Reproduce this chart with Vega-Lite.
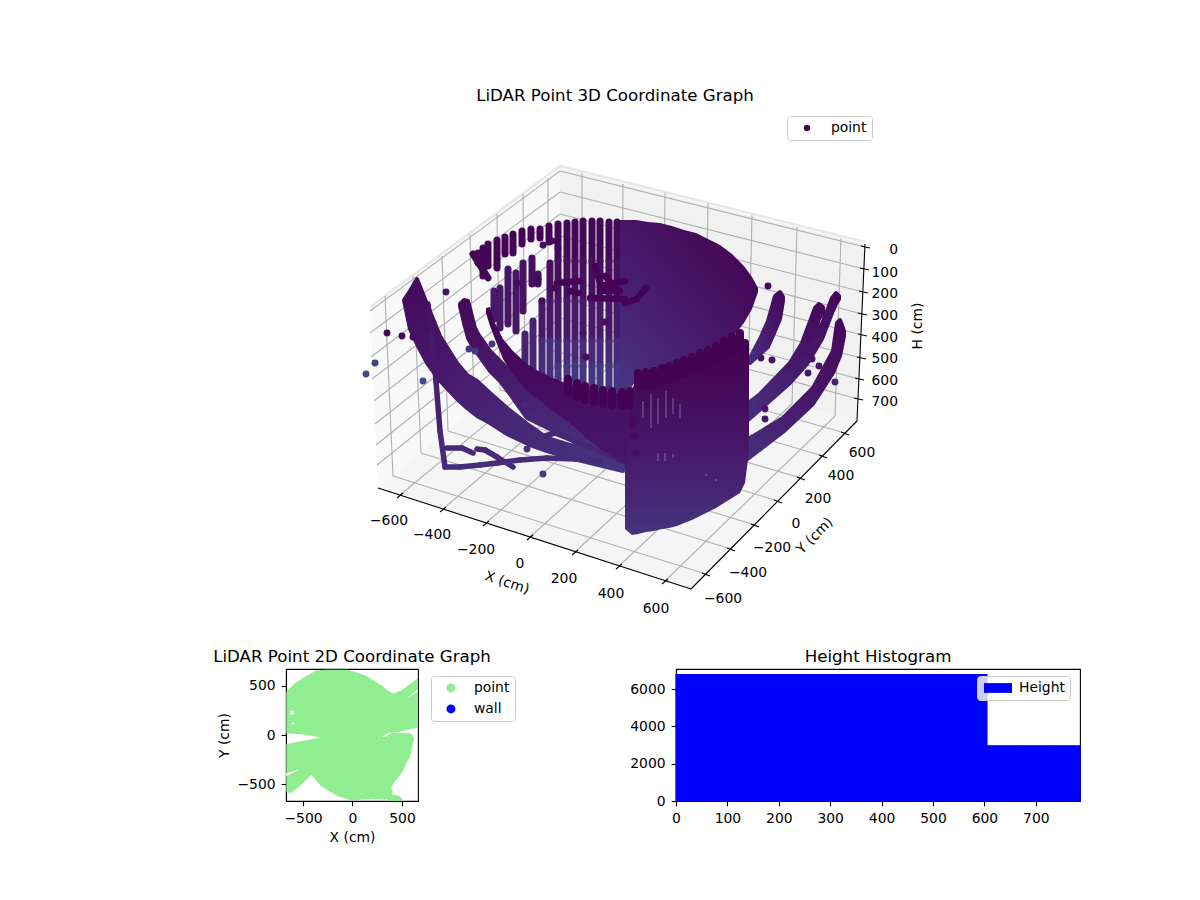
{"$schema":"https://vega.github.io/schema/vega-lite/v6.json","padding":{"left":212,"top":88,"right":0,"bottom":0},"spacing":12,"resolve":{"scale":{"color":"independent","shape":"independent"},"legend":{"color":"independent"}},"config":{"font":"DejaVu Sans","view":{"stroke":"black","strokeWidth":1.1},"axis":{"grid":false,"domainColor":"black","domainWidth":1.1,"tickColor":"black","tickWidth":1.1,"tickSize":4.9,"labelColor":"black","titleColor":"black","labelFontSize":13.9,"titleFontSize":13.9,"titleFontWeight":"normal","labelPadding":6,"titlePadding":5,"labelFlush":false,"labelOverlap":false},"title":{"fontSize":16.67,"fontWeight":"normal","color":"black","offset":3},"legend":{"fillColor":"rgba(255,255,255,0.8)","strokeColor":"#cccccc","cornerRadius":3,"padding":6,"labelFontSize":13.9,"labelColor":"black","symbolStrokeWidth":0,"rowPadding":6}},"vconcat":[{"width":658,"height":530,"title":{"text":"LiDAR Point 3D Coordinate Graph","offset":1},"view":{"stroke":null},"encoding":{"x":{"field":"u","type":"quantitative","axis":null,"scale":{"domain":[286,944],"nice":false,"zero":false}},"y":{"field":"v","type":"quantitative","axis":null,"scale":{"domain":[635,105],"nice":false,"zero":false}}},"layer":[{"mark":{"type":"area","opacity":1},"data":{"values":[{"pane":"left","u":370,"v":307,"v2":307},{"pane":"left","u":378,"v":301,"v2":487},{"pane":"left","u":560,"v":167,"v2":338},{"pane":"right","u":560,"v":167,"v2":338},{"pane":"right","u":857,"v":241,"v2":420},{"pane":"right","u":865,"v":243,"v2":243},{"pane":"floor","u":378,"v":487,"v2":487},{"pane":"floor","u":560,"v":338,"v2":546},{"pane":"floor","u":691,"v":374,"v2":588},{"pane":"floor","u":857,"v":420,"v2":420}]},"encoding":{"y2":{"field":"v2"},"fill":{"field":"pane","type":"nominal","legend":null,"scale":{"domain":["left","right","floor"],"range":["#f9f9f9","#f1f1f1","#f5f5f5"]}}}},{"mark":{"type":"rule","color":"#e8e8e8","strokeWidth":2.5,"opacity":1},"data":{"values":[{"u":370,"v":306,"u2":560,"v2":165},{"u":560,"v":165,"u2":865,"v2":241}]},"encoding":{"x2":{"field":"u2"},"y2":{"field":"v2"}}},{"mark":{"type":"rule","color":"#b0b0b0","strokeWidth":1.1,"opacity":1},"data":{"values":[{"u":400,"v":494,"u2":582,"v2":344},{"u":443,"v":508,"u2":622,"v2":355},{"u":486,"v":522,"u2":663,"v2":367},{"u":530,"v":536,"u2":705,"v2":379},{"u":575,"v":551,"u2":748,"v2":391},{"u":619,"v":565,"u2":792,"v2":403},{"u":665,"v":580,"u2":835,"v2":415},{"u":582,"v":344,"u2":582,"v2":172},{"u":622,"v":355,"u2":623,"v2":183},{"u":663,"v":367,"u2":665,"v2":192},{"u":705,"v":379,"u2":708,"v2":202},{"u":748,"v":391,"u2":752,"v2":214},{"u":792,"v":403,"u2":797,"v2":226},{"u":835,"v":415,"u2":841,"v2":237},{"u":706,"v":573,"u2":393,"v2":475},{"u":731,"v":548,"u2":421,"v2":452},{"u":755,"v":524,"u2":448,"v2":430},{"u":778,"v":500,"u2":474,"v2":408},{"u":801,"v":477,"u2":500,"v2":389},{"u":823,"v":455,"u2":525,"v2":367},{"u":845,"v":432,"u2":548,"v2":348},{"u":393,"v":475,"u2":385,"v2":295},{"u":421,"v":452,"u2":413,"v2":275},{"u":448,"v":430,"u2":442,"v2":255},{"u":474,"v":408,"u2":470,"v2":233},{"u":500,"v":389,"u2":497,"v2":213},{"u":525,"v":367,"u2":523,"v2":193},{"u":548,"v":348,"u2":548,"v2":177},{"u":560,"v":170,"u2":865,"v2":246},{"u":560,"v":191,"u2":864,"v2":268},{"u":560,"v":213,"u2":863,"v2":291},{"u":560,"v":235,"u2":862,"v2":313},{"u":560,"v":255,"u2":862,"v2":334},{"u":560,"v":277,"u2":861,"v2":357},{"u":560,"v":297,"u2":859,"v2":378},{"u":560,"v":317,"u2":858,"v2":398},{"u":370,"v":310,"u2":560,"v2":170},{"u":370,"v":332,"u2":560,"v2":191},{"u":371,"v":356,"u2":560,"v2":213},{"u":372,"v":378,"u2":560,"v2":235},{"u":374,"v":400,"u2":560,"v2":255},{"u":375,"v":423,"u2":560,"v2":277},{"u":376,"v":444,"u2":560,"v2":297},{"u":377,"v":464,"u2":560,"v2":317}]},"encoding":{"x2":{"field":"u2"},"y2":{"field":"v2"}}},{"mark":{"type":"rule","color":"black","strokeWidth":1.1,"opacity":1},"data":{"values":[{"u":378,"v":487,"u2":691,"v2":588},{"u":691,"v":588,"u2":857,"v2":420},{"u":857,"v":420,"u2":865,"v2":243},{"u":397,"v":497,"u2":403,"v2":492},{"u":440,"v":511,"u2":446,"v2":506},{"u":483,"v":525,"u2":489,"v2":520},{"u":527,"v":539,"u2":533,"v2":534},{"u":572,"v":554,"u2":578,"v2":549},{"u":616,"v":568,"u2":622,"v2":563},{"u":662,"v":583,"u2":668,"v2":578},{"u":702,"v":572,"u2":710,"v2":575},{"u":727,"v":547,"u2":735,"v2":550},{"u":751,"v":523,"u2":759,"v2":526},{"u":774,"v":499,"u2":782,"v2":502},{"u":797,"v":476,"u2":805,"v2":479},{"u":819,"v":454,"u2":827,"v2":457},{"u":841,"v":431,"u2":849,"v2":434},{"u":861,"v":245,"u2":870,"v2":247},{"u":860,"v":267,"u2":869,"v2":269},{"u":859,"v":290,"u2":868,"v2":292},{"u":858,"v":312,"u2":867,"v2":314},{"u":858,"v":333,"u2":867,"v2":335},{"u":857,"v":356,"u2":866,"v2":358},{"u":855,"v":377,"u2":864,"v2":379},{"u":854,"v":397,"u2":863,"v2":399}]},"encoding":{"x2":{"field":"u2"},"y2":{"field":"v2"}}},{"mark":{"type":"rule","strokeWidth":7,"strokeCap":"round","opacity":1},"data":{"values":[{"u":478,"v":252,"u2":478,"v2":262,"H":80},{"u":483,"v":247,"u2":483,"v2":275,"H":80},{"u":488,"v":243,"u2":488,"v2":265,"H":70},{"u":497,"v":239,"u2":497,"v2":267,"H":70},{"u":505,"v":236,"u2":505,"v2":253,"H":60},{"u":513,"v":233,"u2":513,"v2":252,"H":60},{"u":522,"v":230,"u2":522,"v2":243,"H":50},{"u":531,"v":228,"u2":531,"v2":238,"H":50},{"u":540,"v":228,"u2":540,"v2":237,"H":50},{"u":549,"v":225,"u2":549,"v2":241,"H":50},{"u":473,"v":253,"u2":488,"v2":277,"H":60},{"u":494,"v":290,"u2":494,"v2":318,"H":350},{"u":500,"v":287,"u2":500,"v2":327,"H":350},{"u":508,"v":268,"u2":508,"v2":323,"H":280},{"u":516,"v":272,"u2":516,"v2":330,"H":300},{"u":523,"v":262,"u2":523,"v2":310,"H":250},{"u":532,"v":257,"u2":532,"v2":283,"H":180},{"u":538,"v":273,"u2":538,"v2":283,"H":180},{"u":525,"v":333,"u2":525,"v2":363,"H":450},{"u":533,"v":320,"u2":533,"v2":370,"H":480},{"u":542,"v":300,"u2":542,"v2":340,"H":350},{"u":542,"v":340,"u2":542,"v2":375,"H":560},{"u":550,"v":262,"u2":550,"v2":300,"H":200},{"u":550,"v":300,"u2":550,"v2":340,"H":350},{"u":550,"v":340,"u2":550,"v2":380,"H":590},{"u":558,"v":223,"u2":558,"v2":260,"H":80},{"u":558,"v":260,"u2":558,"v2":300,"H":200},{"u":558,"v":300,"u2":558,"v2":340,"H":350},{"u":558,"v":340,"u2":558,"v2":365,"H":520},{"u":558,"v":365,"u2":558,"v2":383,"H":650},{"u":567,"v":222,"u2":567,"v2":260,"H":80},{"u":567,"v":260,"u2":567,"v2":300,"H":200},{"u":567,"v":300,"u2":567,"v2":340,"H":350},{"u":567,"v":340,"u2":567,"v2":365,"H":520},{"u":567,"v":365,"u2":567,"v2":385,"H":650},{"u":575,"v":221,"u2":575,"v2":260,"H":80},{"u":575,"v":260,"u2":575,"v2":300,"H":200},{"u":575,"v":300,"u2":575,"v2":340,"H":350},{"u":575,"v":340,"u2":575,"v2":365,"H":520},{"u":575,"v":365,"u2":575,"v2":387,"H":650},{"u":583,"v":220,"u2":583,"v2":260,"H":80},{"u":583,"v":260,"u2":583,"v2":300,"H":200},{"u":583,"v":300,"u2":583,"v2":340,"H":350},{"u":583,"v":340,"u2":583,"v2":365,"H":520},{"u":583,"v":365,"u2":583,"v2":389,"H":650},{"u":592,"v":220,"u2":592,"v2":260,"H":80},{"u":592,"v":260,"u2":592,"v2":300,"H":200},{"u":592,"v":300,"u2":592,"v2":340,"H":350},{"u":592,"v":340,"u2":592,"v2":365,"H":520},{"u":592,"v":365,"u2":592,"v2":390,"H":650},{"u":600,"v":220,"u2":600,"v2":260,"H":80},{"u":600,"v":260,"u2":600,"v2":300,"H":200},{"u":600,"v":300,"u2":600,"v2":340,"H":350},{"u":600,"v":340,"u2":600,"v2":365,"H":520},{"u":600,"v":365,"u2":600,"v2":391,"H":650},{"u":609,"v":221,"u2":609,"v2":260,"H":80},{"u":609,"v":260,"u2":609,"v2":300,"H":200},{"u":609,"v":300,"u2":609,"v2":340,"H":350},{"u":609,"v":340,"u2":609,"v2":365,"H":520},{"u":609,"v":365,"u2":609,"v2":392,"H":650},{"u":617,"v":221,"u2":617,"v2":260,"H":80},{"u":617,"v":260,"u2":617,"v2":300,"H":200},{"u":617,"v":300,"u2":617,"v2":340,"H":350},{"u":617,"v":340,"u2":617,"v2":365,"H":520},{"u":617,"v":365,"u2":617,"v2":392,"H":650}]},"encoding":{"x2":{"field":"u2"},"y2":{"field":"v2"},"color":{"field":"H","type":"quantitative","legend":null,"scale":{"domain":[0,200,400,600,800],"range":["#440154","#46105f","#481c6e","#46307c","#3f4889"]}}}},{"mark":{"type":"area","opacity":1,"strokeWidth":4,"strokeJoin":"round","stroke":{"gradient":"linear","x1":0,"y1":0,"x2":0.9,"y2":1,"stops":[{"offset":0,"color":"#45095b"},{"offset":0.45,"color":"#481d6f"},{"offset":1,"color":"#45347f"}]},"color":{"gradient":"linear","x1":0,"y1":0,"x2":0.9,"y2":1,"stops":[{"offset":0,"color":"#45095b"},{"offset":0.45,"color":"#481d6f"},{"offset":1,"color":"#45347f"}]}},"data":{"values":[{"band":"A","u":404,"v":299,"v2":299},{"band":"A","u":410,"v":290,"v2":328},{"band":"A","u":417,"v":278,"v2":343},{"band":"A","u":427,"v":303,"v2":362},{"band":"A","u":440,"v":335,"v2":380},{"band":"A","u":457,"v":362,"v2":398},{"band":"A","u":467,"v":374,"v2":407},{"band":"A","u":477,"v":380,"v2":415},{"band":"A","u":490,"v":392,"v2":422},{"band":"A","u":507,"v":407,"v2":433},{"band":"A","u":530,"v":425,"v2":444},{"band":"A","u":547,"v":437,"v2":450},{"band":"A","u":570,"v":444,"v2":457},{"band":"A","u":590,"v":450,"v2":462},{"band":"A","u":623,"v":460,"v2":470},{"band":"B","u":460,"v":303,"v2":305},{"band":"B","u":464,"v":299,"v2":322},{"band":"B","u":468,"v":300,"v2":337},{"band":"B","u":475,"v":327,"v2":350},{"band":"B","u":478,"v":333,"v2":353},{"band":"B","u":490,"v":350,"v2":370},{"band":"B","u":500,"v":360,"v2":380},{"band":"B","u":510,"v":370,"v2":393},{"band":"B","u":527,"v":385,"v2":417},{"band":"B","u":560,"v":415,"v2":433},{"band":"B","u":590,"v":440,"v2":450},{"band":"B","u":623,"v":460,"v2":462}]},"encoding":{"y2":{"field":"v2"},"detail":{"field":"band"}}},{"mark":{"type":"rule","strokeWidth":5.5,"strokeCap":"round","opacity":1},"data":{"values":[{"u":428,"v":303,"u2":432,"v2":335,"H":250},{"u":432,"v":335,"u2":436,"v2":380,"H":350},{"u":436,"v":380,"u2":440,"v2":430,"H":450},{"u":440,"v":430,"u2":445,"v2":466,"H":520},{"u":445,"v":466,"u2":460,"v2":466,"H":560},{"u":460,"v":466,"u2":480,"v2":464,"H":560},{"u":480,"v":464,"u2":497,"v2":462,"H":560},{"u":497,"v":462,"u2":520,"v2":459,"H":560},{"u":520,"v":459,"u2":547,"v2":457,"H":560},{"u":547,"v":457,"u2":575,"v2":458,"H":560},{"u":575,"v":458,"u2":600,"v2":460,"H":560},{"u":447,"v":447,"u2":462,"v2":447,"H":520},{"u":462,"v":447,"u2":473,"v2":452,"H":520},{"u":477,"v":448,"u2":485,"v2":449,"H":520},{"u":485,"v":449,"u2":497,"v2":456,"H":540},{"u":497,"v":456,"u2":513,"v2":466,"H":550},{"u":528,"v":413,"u2":545,"v2":415,"H":500},{"u":545,"v":415,"u2":560,"v2":420,"H":500},{"u":545,"v":435,"u2":555,"v2":432,"H":500},{"u":555,"v":432,"u2":575,"v2":440,"H":500},{"u":575,"v":440,"u2":600,"v2":450,"H":500},{"u":600,"v":450,"u2":620,"v2":460,"H":500}]},"encoding":{"x2":{"field":"u2"},"y2":{"field":"v2"},"color":{"field":"H","type":"quantitative","legend":null,"scale":{"domain":[0,200,400,600,800],"range":["#440154","#46105f","#481c6e","#46307c","#3f4889"]}}}},{"mark":{"type":"area","opacity":1,"strokeWidth":4,"strokeJoin":"round","stroke":{"gradient":"linear","x1":1,"y1":0,"x2":0,"y2":1,"stops":[{"offset":0,"color":"#45095b"},{"offset":0.5,"color":"#481a6c"},{"offset":1,"color":"#46307c"}]},"color":{"gradient":"linear","x1":1,"y1":0,"x2":0,"y2":1,"stops":[{"offset":0,"color":"#45095b"},{"offset":0.5,"color":"#481a6c"},{"offset":1,"color":"#46307c"}]}},"data":{"values":[{"band":"R1","u":750,"v":357,"v2":362},{"band":"R1","u":760,"v":338,"v2":353},{"band":"R1","u":768,"v":320,"v2":346},{"band":"R1","u":775,"v":295,"v2":330},{"band":"R1","u":780,"v":291,"v2":318},{"band":"R1","u":783,"v":296,"v2":300},{"band":"R2","u":747,"v":403,"v2":412},{"band":"R2","u":760,"v":393,"v2":403},{"band":"R2","u":790,"v":362,"v2":376},{"band":"R2","u":802,"v":342,"v2":362},{"band":"R2","u":815,"v":307,"v2":332},{"band":"R2","u":819,"v":303,"v2":318},{"band":"R2","u":823,"v":306,"v2":312},{"band":"R3","u":747,"v":415,"v2":420},{"band":"R3","u":790,"v":373,"v2":382},{"band":"R3","u":807,"v":353,"v2":363},{"band":"R3","u":822,"v":323,"v2":338},{"band":"R3","u":832,"v":297,"v2":312},{"band":"R3","u":836,"v":292,"v2":303},{"band":"R3","u":839,"v":295,"v2":298},{"band":"R4","u":745,"v":440,"v2":460},{"band":"R4","u":783,"v":417,"v2":431},{"band":"R4","u":813,"v":387,"v2":403},{"band":"R4","u":833,"v":350,"v2":372},{"band":"R4","u":837,"v":322,"v2":362},{"band":"R4","u":840,"v":319,"v2":355},{"band":"R4","u":844,"v":330,"v2":335}]},"encoding":{"y2":{"field":"v2"},"detail":{"field":"band"}}},{"mark":{"type":"area","opacity":1,"color":{"gradient":"linear","x1":0.9,"y1":0.05,"x2":0.05,"y2":1,"stops":[{"offset":0,"color":"#440154"},{"offset":0.3,"color":"#46105f"},{"offset":0.6,"color":"#481d6f"},{"offset":0.85,"color":"#472c7a"},{"offset":1,"color":"#453781"}]}},"data":{"values":[{"u":620,"v":219,"v2":395},{"u":630,"v":219,"v2":388},{"u":636,"v":219,"v2":380},{"u":648,"v":221,"v2":375},{"u":660,"v":222,"v2":372},{"u":672,"v":225,"v2":368},{"u":684,"v":229,"v2":363},{"u":696,"v":232,"v2":357},{"u":708,"v":238,"v2":352},{"u":720,"v":244,"v2":347},{"u":732,"v":253,"v2":337},{"u":744,"v":265,"v2":322},{"u":752,"v":276,"v2":308},{"u":758,"v":287,"v2":291}]},"encoding":{"y2":{"field":"v2"}}},{"mark":{"type":"area","opacity":1,"color":{"gradient":"linear","x1":0,"y1":0,"x2":0,"y2":1,"stops":[{"offset":0,"color":"#440154"},{"offset":1,"color":"#47186b"}]}},"data":{"values":[{"u":486,"v":307,"v2":312},{"u":490,"v":306,"v2":325},{"u":495,"v":322,"v2":338},{"u":503,"v":338,"v2":358},{"u":512,"v":349,"v2":372},{"u":527,"v":363,"v2":390},{"u":540,"v":371,"v2":400},{"u":560,"v":380,"v2":415},{"u":577,"v":386,"v2":428},{"u":585,"v":388,"v2":436},{"u":603,"v":391,"v2":450},{"u":622,"v":392,"v2":462},{"u":632,"v":390,"v2":466}]},"encoding":{"y2":{"field":"v2"}}},{"mark":{"type":"area","opacity":1,"color":{"gradient":"linear","x1":0,"y1":0,"x2":0,"y2":1,"stops":[{"offset":0,"color":"#440154"},{"offset":0.25,"color":"#440a58"},{"offset":0.56,"color":"#47176a"},{"offset":1,"color":"#45347f"}]}},"data":{"values":[{"u":625,"v":462,"v2":528},{"u":632,"v":388,"v2":534},{"u":638,"v":376,"v2":533},{"u":646,"v":375,"v2":531},{"u":654,"v":374,"v2":530},{"u":662,"v":371,"v2":528},{"u":669,"v":369,"v2":527},{"u":677,"v":366,"v2":525},{"u":684,"v":363,"v2":522},{"u":692,"v":360,"v2":519},{"u":700,"v":356,"v2":515},{"u":708,"v":353,"v2":511},{"u":716,"v":349,"v2":507},{"u":724,"v":344,"v2":502},{"u":732,"v":339,"v2":497},{"u":740,"v":336,"v2":492},{"u":745,"v":346,"v2":482},{"u":749,"v":350,"v2":450}]},"encoding":{"y2":{"field":"v2"}}},{"mark":{"type":"rule","strokeWidth":8,"strokeCap":"round","opacity":1},"data":{"values":[{"u":568,"v":378,"u2":568,"v2":392,"H":20},{"u":577,"v":382,"u2":577,"v2":396,"H":20},{"u":585,"v":385,"u2":585,"v2":399,"H":20},{"u":594,"v":387,"u2":594,"v2":401,"H":20},{"u":603,"v":389,"u2":603,"v2":403,"H":20},{"u":612,"v":390,"u2":612,"v2":404,"H":20},{"u":622,"v":391,"u2":622,"v2":405,"H":20},{"u":630,"v":390,"u2":630,"v2":404,"H":20},{"u":638,"v":372,"u2":638,"v2":386,"H":20},{"u":646,"v":371,"u2":646,"v2":385,"H":20},{"u":654,"v":370,"u2":654,"v2":384,"H":20},{"u":662,"v":367,"u2":662,"v2":381,"H":20},{"u":669,"v":365,"u2":669,"v2":379,"H":20},{"u":677,"v":362,"u2":677,"v2":376,"H":20},{"u":684,"v":359,"u2":684,"v2":373,"H":20},{"u":692,"v":356,"u2":692,"v2":370,"H":20},{"u":700,"v":352,"u2":700,"v2":366,"H":20},{"u":708,"v":349,"u2":708,"v2":363,"H":20},{"u":716,"v":345,"u2":716,"v2":359,"H":20},{"u":724,"v":340,"u2":724,"v2":354,"H":20},{"u":732,"v":335,"u2":732,"v2":349,"H":20},{"u":740,"v":332,"u2":740,"v2":346,"H":20},{"u":745,"v":342,"u2":745,"v2":356,"H":20}]},"encoding":{"x2":{"field":"u2"},"y2":{"field":"v2"},"color":{"field":"H","type":"quantitative","legend":null,"scale":{"domain":[0,200,400,600,800],"range":["#440154","#46105f","#481c6e","#46307c","#3f4889"]}}}},{"mark":{"type":"rule","color":"white","strokeWidth":0.8,"opacity":0.45},"data":{"values":[{"u":643,"v":400,"u2":643,"v2":417},{"u":651,"v":393,"u2":651,"v2":427},{"u":658,"v":397,"u2":658,"v2":423},{"u":666,"v":390,"u2":666,"v2":417},{"u":673,"v":397,"u2":673,"v2":413},{"u":680,"v":403,"u2":680,"v2":417},{"u":658,"v":452,"u2":658,"v2":460},{"u":665,"v":452,"u2":665,"v2":460},{"u":673,"v":453,"u2":673,"v2":457},{"u":706,"v":473,"u2":706,"v2":475},{"u":716,"v":478,"u2":716,"v2":480}]},"encoding":{"x2":{"field":"u2"},"y2":{"field":"v2"}}},{"mark":{"type":"rule","strokeWidth":6.5,"strokeCap":"round","opacity":1},"data":{"values":[{"u":595,"v":265,"u2":601,"v2":285,"H":30},{"u":600,"v":285,"u2":625,"v2":280,"H":30},{"u":590,"v":297,"u2":625,"v2":298,"H":30},{"u":625,"v":302,"u2":637,"v2":298,"H":30},{"u":637,"v":298,"u2":646,"v2":287,"H":30},{"u":605,"v":275,"u2":618,"v2":290,"H":30},{"u":600,"v":290,"u2":620,"v2":290,"H":30},{"u":557,"v":282,"u2":580,"v2":280,"H":30},{"u":570,"v":290,"u2":578,"v2":292,"H":30}]},"encoding":{"x2":{"field":"u2"},"y2":{"field":"v2"},"color":{"field":"H","type":"quantitative","legend":null,"scale":{"domain":[0,200,400,600,800],"range":["#440154","#46105f","#481c6e","#46307c","#3f4889"]}}}},{"mark":{"type":"point","filled":true,"size":48,"opacity":1},"data":{"values":[{"u":366,"v":373,"H":800,"series":"point"},{"u":375,"v":362,"H":750,"series":"point"},{"u":423,"v":380,"H":800,"series":"point"},{"u":387,"v":332,"H":100,"series":"point"},{"u":402,"v":335,"H":100,"series":"point"},{"u":413,"v":336,"H":100,"series":"point"},{"u":446,"v":291,"H":300,"series":"point"},{"u":469,"v":348,"H":650,"series":"point"},{"u":475,"v":350,"H":650,"series":"point"},{"u":492,"v":343,"H":650,"series":"point"},{"u":427,"v":325,"H":200,"series":"point"},{"u":425,"v":303,"H":200,"series":"point"},{"u":543,"v":244,"H":100,"series":"point"},{"u":552,"v":240,"H":100,"series":"point"},{"u":558,"v":247,"H":100,"series":"point"},{"u":517,"v":282,"H":100,"series":"point"},{"u":538,"v":278,"H":100,"series":"point"},{"u":542,"v":300,"H":100,"series":"point"},{"u":555,"v":287,"H":100,"series":"point"},{"u":583,"v":332,"H":200,"series":"point"},{"u":605,"v":321,"H":200,"series":"point"},{"u":586,"v":356,"H":200,"series":"point"},{"u":633,"v":418,"H":100,"series":"point"},{"u":633,"v":424,"H":100,"series":"point"},{"u":634,"v":435,"H":120,"series":"point"},{"u":636,"v":452,"H":150,"series":"point"},{"u":525,"v":404,"H":550,"series":"point"},{"u":527,"v":448,"H":600,"series":"point"},{"u":543,"v":473,"H":680,"series":"point"},{"u":768,"v":285,"H":100,"series":"point"},{"u":761,"v":357,"H":250,"series":"point"},{"u":772,"v":359,"H":250,"series":"point"},{"u":789,"v":366,"H":300,"series":"point"},{"u":812,"v":358,"H":300,"series":"point"},{"u":808,"v":372,"H":350,"series":"point"},{"u":819,"v":365,"H":300,"series":"point"},{"u":835,"v":381,"H":450,"series":"point"},{"u":765,"v":408,"H":300,"series":"point"},{"u":765,"v":418,"H":300,"series":"point"}]},"encoding":{"color":{"field":"H","type":"quantitative","legend":null,"scale":{"domain":[0,200,400,600,800],"range":["#440154","#46105f","#481c6e","#46307c","#3f4889"]}},"shape":{"field":"series","type":"nominal","scale":{"domain":["point"],"range":["circle"]},"legend":{"title":null,"orient":"none","legendX":501,"legendY":10,"symbolFillColor":"#440154","symbolSize":40,"symbolOffset":8,"labelOffset":17,"padding":5}}}},{"mark":{"type":"text","fontSize":13.9,"color":"black"},"data":{"values":[{"t":"−600","u":389,"v":520},{"t":"−400","u":432,"v":534},{"t":"−200","u":476,"v":549},{"t":"0","u":520,"v":563},{"t":"200","u":564,"v":578},{"t":"400","u":611,"v":593},{"t":"600","u":656,"v":608},{"t":"−600","u":723,"v":598},{"t":"−400","u":748,"v":572},{"t":"−200","u":772,"v":547},{"t":"0","u":796,"v":523},{"t":"200","u":818,"v":498},{"t":"400","u":841,"v":475},{"t":"600","u":862,"v":452}]},"encoding":{"text":{"field":"t"}}},{"mark":{"type":"text","fontSize":13.9,"color":"black","align":"right"},"data":{"values":[{"t":"0","u":898,"v":249},{"t":"100","u":898,"v":272},{"t":"200","u":898,"v":293},{"t":"300","u":898,"v":315},{"t":"400","u":898,"v":337},{"t":"500","u":898,"v":358},{"t":"600","u":898,"v":380},{"t":"700","u":898,"v":401}]},"encoding":{"text":{"field":"t"}}},{"mark":{"type":"text","fontSize":13.9,"color":"black","angle":18},"data":{"values":[{"t":"X (cm)","u":507,"v":582}]},"encoding":{"text":{"field":"t"}}},{"mark":{"type":"text","fontSize":13.9,"color":"black","angle":315},"data":{"values":[{"t":"Y (cm)","u":815,"v":535}]},"encoding":{"text":{"field":"t"}}},{"mark":{"type":"text","fontSize":13.9,"color":"black","angle":270},"data":{"values":[{"t":"H (cm)","u":918,"v":325}]},"encoding":{"text":{"field":"t"}}}]},{"hconcat":[{"width":132,"height":132,"title":"LiDAR Point 2D Coordinate Graph","encoding":{"x":{"field":"X","type":"quantitative","title":"X (cm)","axis":{"values":[-500,0,500]},"scale":{"domain":[-672,662],"nice":false,"zero":false}},"y":{"field":"Y","type":"quantitative","title":"Y (cm)","axis":{"values":[-500,0,500]},"scale":{"domain":[-673,673],"nice":false,"zero":false}}},"layer":[{"mark":{"type":"area","clip":true,"opacity":1},"data":{"values":[{"part":"upper","series":"point","X":-669,"Y":17,"Y2":439},{"part":"upper","series":"point","X":-584,"Y":13,"Y2":524},{"part":"upper","series":"point","X":-483,"Y":3,"Y2":591},{"part":"upper","series":"point","X":-382,"Y":-14,"Y2":649},{"part":"upper","series":"point","X":-348,"Y":-20,"Y2":659},{"part":"upper","series":"point","X":-280,"Y":-20,"Y2":666},{"part":"upper","series":"point","X":-44,"Y":-20,"Y2":666},{"part":"upper","series":"point","X":125,"Y":-20,"Y2":608},{"part":"upper","series":"point","X":294,"Y":-20,"Y2":507},{"part":"upper","series":"point","X":360,"Y":24,"Y2":450},{"part":"upper","series":"point","X":412,"Y":24,"Y2":422},{"part":"upper","series":"point","X":497,"Y":37,"Y2":456},{"part":"upper","series":"point","X":665,"Y":78,"Y2":584},{"part":"lower","series":"point","X":-669,"Y":-584,"Y2":-91},{"part":"lower","series":"point","X":-618,"Y":-591,"Y2":-81},{"part":"lower","series":"point","X":-517,"Y":-507,"Y2":-64},{"part":"lower","series":"point","X":-416,"Y":-405,"Y2":-44},{"part":"lower","series":"point","X":-314,"Y":-524,"Y2":-20},{"part":"lower","series":"point","X":-145,"Y":-625,"Y2":-20},{"part":"lower","series":"point","X":-10,"Y":-669,"Y2":-20},{"part":"lower","series":"point","X":200,"Y":-650,"Y2":-20},{"part":"lower","series":"point","X":328,"Y":-659,"Y2":-20},{"part":"lower","series":"point","X":395,"Y":-608,"Y2":24},{"part":"lower","series":"point","X":395,"Y":-527,"Y2":24},{"part":"lower","series":"point","X":429,"Y":-473,"Y2":23},{"part":"lower","series":"point","X":497,"Y":-388,"Y2":20},{"part":"lower","series":"point","X":581,"Y":-220,"Y2":17},{"part":"lower","series":"point","X":605,"Y":-120,"Y2":0},{"part":"lower","series":"point","X":622,"Y":-34,"Y2":-34}]},"encoding":{"y2":{"field":"Y2"},"detail":{"field":"part"},"color":{"field":"series","type":"nominal","scale":{"domain":["point","wall"],"range":["#90ee90","#0000ff"]},"legend":{"title":null,"orient":"none","legendX":145,"legendY":7,"symbolType":"circle","symbolSize":80,"symbolOffset":8,"labelOffset":16,"padding":5}}}},{"mark":{"type":"area","clip":true,"color":"white","opacity":1},"data":{"values":[{"part":"a","X":-625,"Y":203,"Y2":253},{"part":"a","X":-590,"Y":215,"Y2":240},{"part":"b","X":-610,"Y":105,"Y2":125},{"part":"b","X":-590,"Y":110,"Y2":130},{"part":"c","X":-669,"Y":-420,"Y2":-390},{"part":"c","X":-551,"Y":-360,"Y2":-355},{"part":"d","X":547,"Y":372,"Y2":375},{"part":"d","X":665,"Y":445,"Y2":465}]},"encoding":{"y2":{"field":"Y2"},"detail":{"field":"part"}}},{"mark":{"type":"point","filled":true,"size":50,"clip":true,"opacity":1},"data":{"values":[{"X":400,"Y":-665,"series":"point"},{"X":425,"Y":-645,"series":"point"},{"X":450,"Y":-650,"series":"point"},{"X":470,"Y":-668,"series":"point"},{"X":340,"Y":-610,"series":"point"},{"X":370,"Y":-580,"series":"point"},{"X":375,"Y":-630,"series":"point"}]},"encoding":{"color":{"field":"series","type":"nominal","scale":{"domain":["point","wall"],"range":["#90ee90","#0000ff"]}}}}]},{"width":404,"height":132,"title":"Height Histogram","data":{"values":[{"b0":0,"b1":60.5,"n":6775,"series":"Height"},{"b0":60.5,"b1":121,"n":6775,"series":"Height"},{"b0":121,"b1":181.5,"n":6775,"series":"Height"},{"b0":181.5,"b1":242,"n":6775,"series":"Height"},{"b0":242,"b1":302.5,"n":6775,"series":"Height"},{"b0":302.5,"b1":363,"n":6775,"series":"Height"},{"b0":363,"b1":423.5,"n":6775,"series":"Height"},{"b0":423.5,"b1":484,"n":6775,"series":"Height"},{"b0":484,"b1":544.5,"n":6775,"series":"Height"},{"b0":544.5,"b1":605,"n":6775,"series":"Height"},{"b0":605,"b1":665.5,"n":2960,"series":"Height"},{"b0":665.5,"b1":726,"n":2960,"series":"Height"},{"b0":726,"b1":786,"n":2960,"series":"Height"}]},"mark":{"type":"rect","stroke":"#0000ff","strokeWidth":1.2,"opacity":1},"encoding":{"x":{"field":"b0","type":"quantitative","title":null,"axis":{"values":[0,100,200,300,400,500,600,700]},"scale":{"domain":[0,786],"nice":false}},"x2":{"field":"b1"},"y":{"field":"n","type":"quantitative","title":null,"axis":{"values":[0,2000,4000,6000],"format":"d"},"scale":{"domain":[0,7080],"nice":false}},"y2":{"datum":0},"color":{"field":"series","type":"nominal","scale":{"domain":["Height"],"range":["#0000ff"]},"legend":{"title":null,"orient":"none","legendX":301,"legendY":7,"symbolType":"M-2,-0.7H2V0.7H-2Z","symbolSize":196,"symbolOffset":9,"labelOffset":14,"padding":5}}}}],"spacing":112,"resolve":{"scale":{"color":"independent"},"legend":{"color":"independent"}}}]}
